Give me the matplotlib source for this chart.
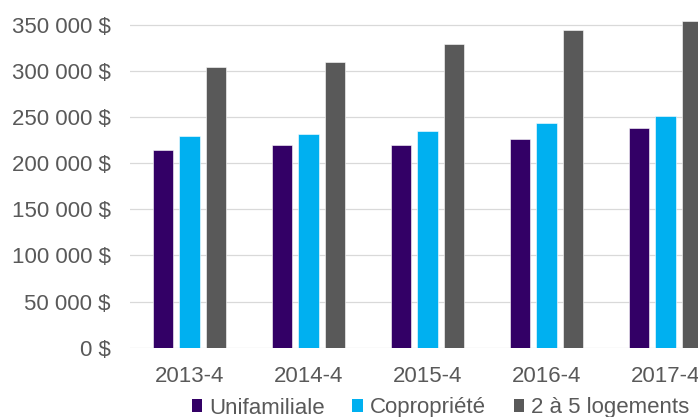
import matplotlib.pyplot as plt
from matplotlib.patches import Patch
from matplotlib.ticker import FuncFormatter
import numpy as np

periodes = ['2013-4', '2014-4', '2015-4', '2016-4', '2017-4']
unifamiliale = [214000, 219500, 219500, 226000, 238500]
copropriete = [230000, 231500, 234500, 243500, 251000]
plex_2_5 = [304000, 309500, 329000, 344500, 354000]

series = ['Unifamiliale', 'Copropriété', '2 à 5 logements']
couleurs = ['#330066', '#00B0F0', '#595959']
gris_texte = '#595959'

plt.rcParams['font.family'] = ['Liberation Sans', 'DejaVu Sans']

fig = plt.figure(figsize=(6.98, 4.17), dpi=100)
# the axes run past the right and top edges of the figure on purpose
ax = fig.add_axes([0.1862, 0.1662, 0.8525, 0.8844])

x = np.arange(len(periodes))
largeur = 0.171
pas = 0.221
for i, (vals, coul) in enumerate(zip([unifamiliale, copropriete, plex_2_5], couleurs)):
    ax.bar(x + (i - 1) * pas, vals, width=largeur, color=coul,
           edgecolor='white', linewidth=0.4, zorder=3)

ax.set_xlim(-0.5, len(periodes) - 0.5)
ax.set_ylim(0, 400000)
ax.set_yticks(range(0, 350001, 50000))
ax.yaxis.set_major_formatter(FuncFormatter(lambda v, p: f"{int(v):,}".replace(',', ' ') + ' $'))
ax.set_xticks(x)
ax.set_xticklabels(periodes)

ax.grid(axis='y', color='#D9D9D9', linewidth=0.9, zorder=0)
for s in ax.spines.values():
    s.set_visible(False)
ax.tick_params(axis='y', length=0, pad=14, labelsize=16, labelcolor=gris_texte)
ax.tick_params(axis='x', length=0, pad=13, labelsize=16, labelcolor=gris_texte)

poignees = [Patch(facecolor=c, edgecolor='none') for c in couleurs]
fig.legend(poignees, series, loc='center left', bbox_to_anchor=(191.7 / 698, 1 - 408 / 417),
           ncol=3, frameon=False, fontsize=16, borderpad=0, borderaxespad=0,
           handlelength=0.48, handleheight=0.48, handletextpad=0.3,
           columnspacing=1.25, labelcolor=gris_texte)

fig.savefig('out.png', dpi=100)
